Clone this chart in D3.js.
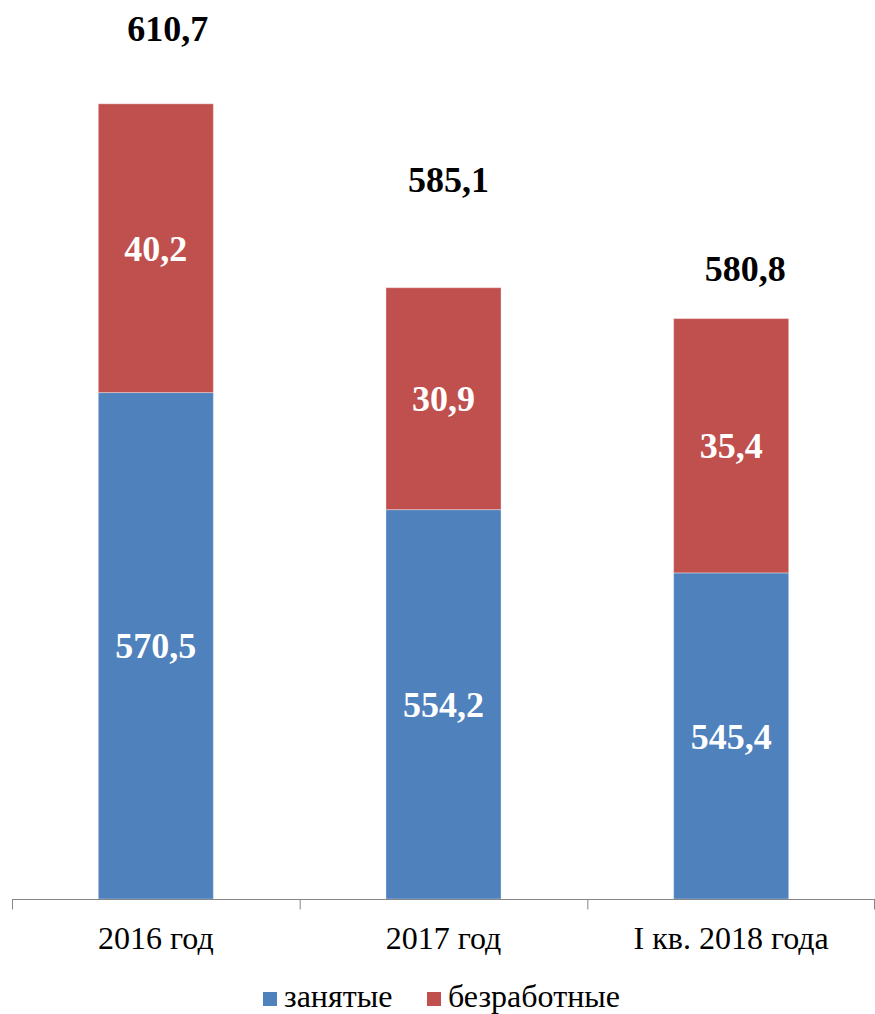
<!DOCTYPE html>
<html lang="ru">
<head>
<meta charset="utf-8">
<title>Занятые и безработные</title>
<script src="https://d3js.org/d3.v7.min.js"></script>
<style>
  body { margin: 0; background: #fff; }
  svg { display: block; font-family: "Liberation Serif", "Times New Roman", serif; }
</style>
</head>
<body>
<script>
// data
var categories = ["2016 год", "2017 год", "I кв. 2018 года"];
var employed   = [570.5, 554.2, 545.4];
var unemployed = [40.2, 30.9, 35.4];
var totals     = [610.7, 585.1, 580.8];
var seriesNames = ["занятые", "безработные"];
var seriesKeys  = ["employed", "unemployed"];
var colors      = ["#4F81BD", "#C0504D"];

// total labels were dragged by hand in the original, so nudge them a bit
var totalNudge = [[12, -63], [5, -96], [14, -38]];

var w = 875, h = 1014;

var svg = d3.select("body").append("svg")
  .attr("width", w)
  .attr("height", h);

//scales
var x = d3.scaleBand()
  .domain(categories)
  .range([12, 875])
  .paddingInner(0.6)
  .paddingOuter(0.3);

var y = d3.scaleLinear()
  .domain([500, 620])
  .range([899, 37]);

var color = d3.scaleOrdinal().domain(seriesKeys).range(colors);

var fmt = function(v) { return d3.format(".1f")(v).replace(".", ","); };

var rows = categories.map(function(c, i) {
  return { cat: c, employed: employed[i], unemployed: unemployed[i] };
});

var stacked = d3.stack().keys(seriesKeys)(rows);
// bars start from the bottom of the axis, not from 0
stacked[0].forEach(function(d) { d[0] = y.domain()[0]; });

var layer = svg.selectAll("g.layer")
  .data(stacked)
  .enter().append("g")
  .attr("class", "layer")
  .attr("fill", function(d) { return color(d.key); });

layer.selectAll("rect")
  .data(function(d) { return d; })
  .enter().append("rect")
  .attr("x", function(d) { return x(d.data.cat); })
  .attr("width", x.bandwidth())
  .attr("y", function(d) { return y(d[1]); })
  .attr("height", function(d) { return y(d[0]) - y(d[1]); })
  .attr("stroke", "rgba(255,255,255,0.35)")
  .attr("stroke-width", 1);

// labels inside segments
layer.selectAll("text")
  .data(function(d) { return d.map(function(p) { return { p: p, key: d.key }; }); })
  .enter().append("text")
  .attr("x", function(d) { return x(d.p.data.cat) + x.bandwidth() / 2; })
  .attr("y", function(d) { return (y(d.p[0]) + y(d.p[1])) / 2; })
  .attr("dy", "0.35em")
  .attr("text-anchor", "middle")
  .attr("fill", "#fff")
  .attr("font-weight", "bold")
  .attr("font-size", 36)
  .text(function(d) { return fmt(d.p.data[d.key]); });

// totals above bars
svg.selectAll("text.total")
  .data(totals)
  .enter().append("text")
  .attr("class", "total")
  .attr("x", function(d, i) { return x(categories[i]) + x.bandwidth() / 2 + totalNudge[i][0]; })
  .attr("y", function(d, i) { return y(d) + totalNudge[i][1]; })
  .attr("text-anchor", "middle")
  .attr("fill", "#000")
  .attr("font-weight", "bold")
  .attr("font-size", 36)
  .text(function(d) { return fmt(d); });

// x axis: line with ticks between categories
var axisY = y.range()[0] + 0.5;
var ax = svg.append("g");
ax.append("line")
  .attr("x1", x.range()[0]).attr("x2", x.range()[1])
  .attr("y1", axisY).attr("y2", axisY)
  .attr("stroke", "#868686");
d3.range(categories.length + 1).forEach(function(i) {
  var tx = Math.min(x.range()[0] + i * x.step(), x.range()[1] - 1) + 0.5;
  ax.append("line")
    .attr("x1", tx).attr("x2", tx)
    .attr("y1", axisY).attr("y2", axisY + 10)
    .attr("stroke", "#868686");
});
ax.selectAll("text")
  .data(categories)
  .enter().append("text")
  .attr("x", function(d) { return x(d) + x.bandwidth() / 2; })
  .attr("y", 949)
  .attr("text-anchor", "middle")
  .attr("font-size", 32)
  .attr("fill", "#000")
  .text(function(d) { return d; });

// legend
var legendX = [263, 427];
var lg = svg.append("g");
seriesNames.forEach(function(name, i) {
  lg.append("rect")
    .attr("x", legendX[i]).attr("y", 992)
    .attr("width", 14).attr("height", 14)
    .attr("fill", colors[i]);
  lg.append("text")
    .attr("x", legendX[i] + 21).attr("y", 1007)
    .attr("font-size", 32)
    .attr("fill", "#000")
    .text(name);
});
</script>
</body>
</html>
